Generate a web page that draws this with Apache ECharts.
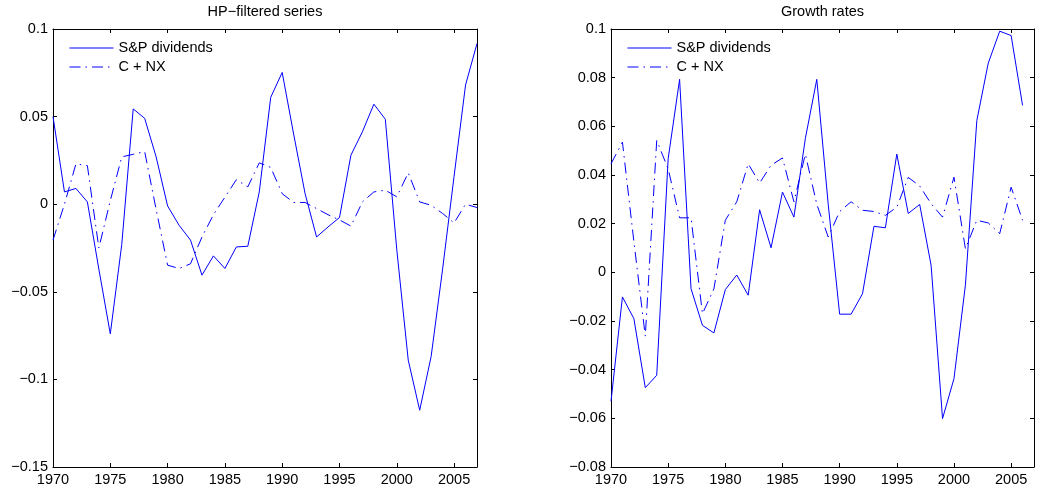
<!DOCTYPE html>
<html>
<head>
<meta charset="utf-8">
<script src="https://cdn.jsdelivr.net/npm/echarts@6/dist/echarts.min.js"></script>
<style>
  html, body { margin: 0; padding: 0; background: #fff; }
  #chart { width: 1037px; height: 491px; }
</style>
</head>
<body>
<div id="chart"></div>
<script>
// Annual observations, HP-filtered panel (1970-2007)
const hpYears = [1970, 1971, 1972, 1973, 1974, 1975, 1976, 1977, 1978, 1979,
                 1980, 1981, 1982, 1983, 1984, 1985, 1986, 1987, 1988, 1989,
                 1990, 1991, 1992, 1993, 1994, 1995, 1996, 1997, 1998, 1999,
                 2000, 2001, 2002, 2003, 2004, 2005, 2006, 2007];
const hpDividends = [0.050, 0.007, 0.009, 0.0013, -0.037, -0.074, -0.023, 0.0544, 0.049, 0.027,
                     -0.001, -0.012, -0.0205, -0.0405, -0.0295, -0.0367, -0.0244, -0.024, 0.007, 0.061,
                     0.0752, 0.040, 0.006, -0.0187, -0.013, -0.0076, 0.028, 0.0413, 0.0571, 0.0485,
                     -0.026, -0.089, -0.1176, -0.0868, -0.037, 0.016, 0.068, 0.0917];
const hpConsNx = [-0.0205, 0.000, 0.023, 0.022, -0.025, 0.002, 0.027, 0.0285, 0.030, -0.003,
                  -0.0348, -0.0367, -0.034, -0.0187, -0.006, 0.004, 0.014, 0.0099, 0.0236, 0.021,
                  0.006, 0.001, 0.001, -0.0025, -0.006, -0.009, -0.0125, 0.0013, 0.007, 0.008,
                  0.0042, 0.0179, 0.0013, -0.0006, -0.0053, -0.0107, 0.000, -0.0019];

// Annual growth rates (1970-2006)
const grYears = [1970, 1971, 1972, 1973, 1974, 1975, 1976, 1977, 1978, 1979,
                 1980, 1981, 1982, 1983, 1984, 1985, 1986, 1987, 1988, 1989,
                 1990, 1991, 1992, 1993, 1994, 1995, 1996, 1997, 1998, 1999,
                 2000, 2001, 2002, 2003, 2004, 2005, 2006];
const grDividends = [-0.053, -0.0101, -0.019, -0.0474, -0.0423, 0.0467, 0.0793, -0.0067, -0.0218, -0.0249,
                     -0.0071, -0.0011, -0.0094, 0.0257, 0.0101, 0.033, 0.0227, 0.055, 0.0793, 0.028,
                     -0.0172, -0.0172, -0.0088, 0.0189, 0.0183, 0.0486, 0.0242, 0.0279, 0.0029, -0.0601,
                     -0.0437, -0.0053, 0.0624, 0.086, 0.0991, 0.0973, 0.0686];
const grConsNx = [0.0446, 0.0535, 0.0127, -0.0262, 0.0542, 0.0425, 0.0224, 0.0224, -0.017, -0.0068,
                  0.0214, 0.029, 0.0446, 0.0367, 0.044, 0.047, 0.029, 0.0485, 0.028, 0.0145,
                  0.025, 0.029, 0.0255, 0.025, 0.0234, 0.0268, 0.039, 0.0355, 0.0282, 0.0227,
                  0.0391, 0.0097, 0.0214, 0.0203, 0.0159, 0.035, 0.0214];

const seriesNames = ['S&P dividends', 'C + NX'];
const panelTitles = ['HP\u2212filtered series', 'Growth rates'];

const FONT = 'Liberation Sans, Arial, Helvetica, sans-serif';
const FS = 14.5;
const BLUE = '#0000ff';
const DASH_DOT = [11, 5, 1.5, 5];

const grids = [
  { left: 53, top: 29, width: 424, height: 438 },
  { left: 611, top: 29, width: 423, height: 438 }
];

const yRanges = [
  { min: -0.15, max: 0.1, interval: 0.05 },
  { min: -0.08, max: 0.1, interval: 0.02 }
];

const fmtY = v => (v < 0 ? '\u2212' + String(Math.abs(v)) : String(v));

const xAxis = [];
const yAxis = [];
grids.forEach((g, gi) => {
  const common = {
    type: 'value', gridIndex: gi, min: 1970, max: 2007, interval: 5,
    splitLine: { show: false },
    axisLine: { onZero: false, lineStyle: { color: '#000', width: 1 } },
    axisTick: { inside: true, length: 4, lineStyle: { color: '#000', width: 1 } }
  };
  xAxis.push(Object.assign({}, common, {
    position: 'bottom',
    axisLabel: { margin: 5, color: '#000', fontSize: FS, fontFamily: FONT,
                 showMaxLabel: false, formatter: v => String(v) }
  }));
  xAxis.push(Object.assign({}, common, { position: 'top', axisLabel: { show: false } }));

  const yc = Object.assign({
    type: 'value', gridIndex: gi,
    splitLine: { show: false },
    axisLine: { onZero: false, lineStyle: { color: '#000', width: 1 } },
    axisTick: { inside: true, length: 4, lineStyle: { color: '#000', width: 1 } }
  }, yRanges[gi]);
  yAxis.push(Object.assign({}, yc, {
    position: 'left',
    axisLabel: { margin: 5, color: '#000', fontSize: FS, fontFamily: FONT, formatter: fmtY }
  }));
  yAxis.push(Object.assign({}, yc, { position: 'right', axisLabel: { show: false } }));
});

function lineSeries(name, years, values, gi, dashed) {
  return {
    type: 'line', name,
    xAxisIndex: gi * 2, yAxisIndex: gi * 2,
    data: years.map((y, i) => [y, values[i]]),
    symbol: 'none', showSymbol: false, silent: true,
    lineStyle: { color: BLUE, width: 1, type: dashed ? DASH_DOT : 'solid' },
    itemStyle: { color: BLUE }
  };
}

const series = [
  lineSeries(seriesNames[0], hpYears, hpDividends, 0, false),
  lineSeries(seriesNames[1], hpYears, hpConsNx, 0, true),
  lineSeries(seriesNames[0], grYears, grDividends, 1, false),
  lineSeries(seriesNames[1], grYears, grConsNx, 1, true)
];

// legend keys: plain thin line samples, no marker
const legend = [69, 627].map(x => ({
  left: x, top: 40.5, orient: 'vertical', padding: 0,
  itemWidth: 44, itemHeight: 14, itemGap: 4,
  selectedMode: false,
  itemStyle: { color: 'transparent', borderWidth: 0, opacity: 0 },
  lineStyle: { width: 1 },
  data: seriesNames,
  textStyle: { color: '#000', fontSize: FS, fontFamily: FONT }
}));

const graphic = grids.map((g, gi) => ({
  type: 'text',
  x: g.left + g.width / 2, y: 12,
  style: { text: panelTitles[gi], fill: '#000', fontSize: FS, fontFamily: FONT,
           align: 'center', verticalAlign: 'middle' }
}));

const chart = echarts.init(document.getElementById('chart'), null, { renderer: 'canvas' });
chart.setOption({
  animation: false,
  backgroundColor: '#fff',
  grid: grids,
  xAxis, yAxis, series, legend, graphic
});
</script>
</body>
</html>
